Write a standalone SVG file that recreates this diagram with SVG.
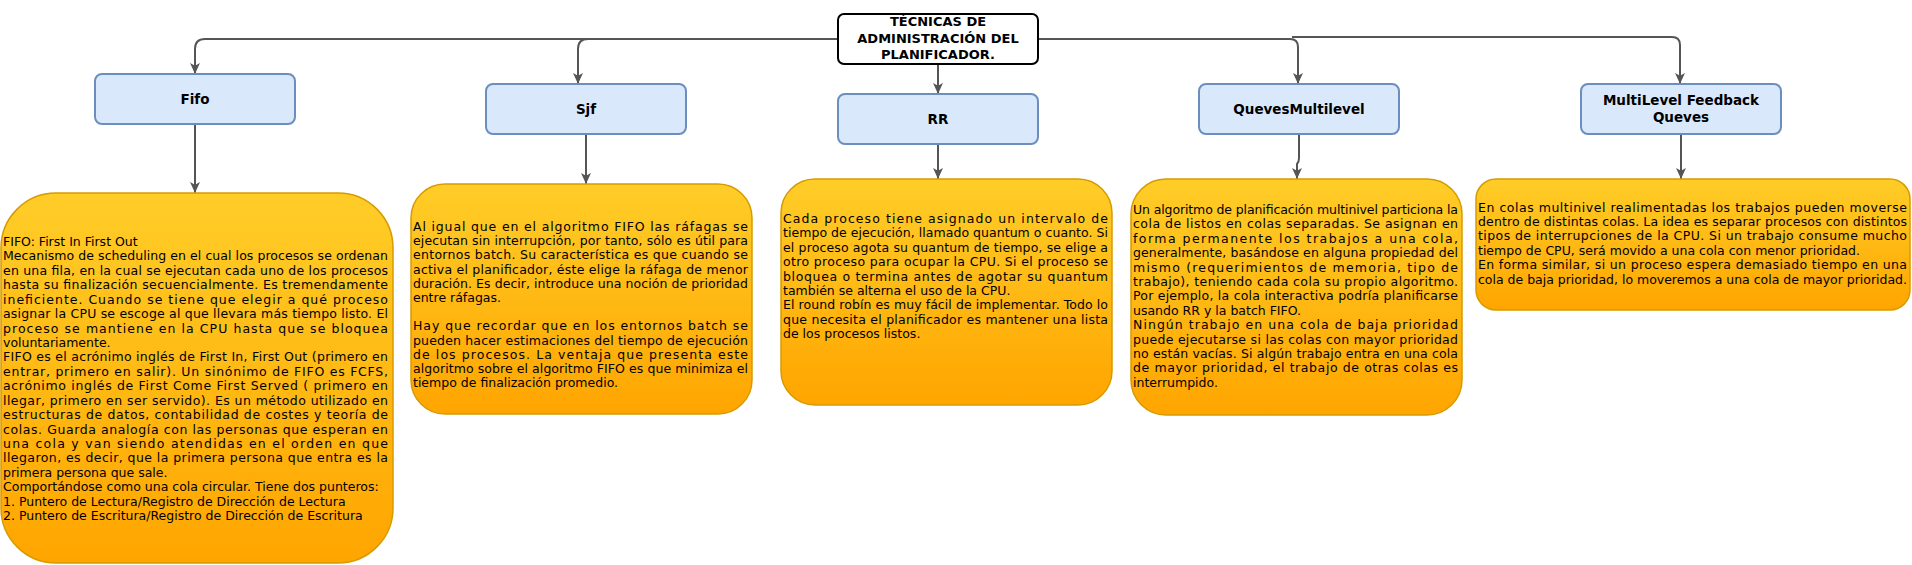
<svg xmlns="http://www.w3.org/2000/svg" width="1912" height="565" viewBox="0 0 1912 565">
<style>
.hdr{fill:#dae8fc;stroke:#6c8ebf;stroke-width:2}
.yel{fill:url(#yg);stroke:#d79b00;stroke-width:1.5}
.top{fill:#fff;stroke:#000;stroke-width:2}
.edge{fill:none;stroke:#555;stroke-width:2;marker-end:url(#arr)}
.ht{font-family:"DejaVu Sans",Verdana,sans-serif;font-weight:bold;font-size:13.5px;fill:#000;text-anchor:middle}
.tt{font-family:"DejaVu Sans",Verdana,sans-serif;font-weight:bold;font-size:13px;fill:#000;text-anchor:middle}
.b{font-family:"DejaVu Sans",Verdana,sans-serif;font-size:12.5px;fill:#000}
</style>
<defs>
<linearGradient id="yg" x1="0" y1="0" x2="0" y2="1">
<stop offset="0" stop-color="#ffcd28"/>
<stop offset="1" stop-color="#ffa500"/>
</linearGradient>
<marker id="arr" viewBox="0 0 10 10" markerUnits="userSpaceOnUse" markerWidth="11" markerHeight="11" refX="10" refY="5" orient="auto">
<path d="M0,0.5 L10,5 L0,9.5 L2.5,5 z" fill="#555"/>
</marker>
</defs>
<g id="connectors">
<path class="edge" d="M838,39 H205 Q195,39 195,49 V74"/>
<path class="edge" d="M838,39 H588 Q578,39 578,49 V84"/>
<path class="edge" d="M938,64 V94"/>
<path class="edge" d="M1038,39 H1290 Q1298,39 1298,47 V84"/>
<path class="edge" d="M1292,37 H1672 Q1680,37 1680,45 V84"/>
<path class="edge" d="M195,124 V193"/>
<path class="edge" d="M586,134 V184"/>
<path class="edge" d="M938,144 V179"/>
<path class="edge" d="M1299,134 V158 Q1299,162 1297,164 V179"/>
<path class="edge" d="M1681,134 V179"/>
</g>
<g id="root">
<rect class="top" x="838" y="14" width="200" height="50" rx="6"/>
<text class="tt" x="938" y="26">TÉCNICAS DE</text>
<text class="tt" x="938" y="42.5">ADMINISTRACIÓN DEL</text>
<text class="tt" x="938" y="59">PLANIFICADOR.</text>
</g>
<g id="fifo">
<rect class="hdr" x="95" y="74" width="200" height="50" rx="7"/>
<text class="ht" x="195" y="104">Fifo</text>
</g>
<g id="sjf">
<rect class="hdr" x="486" y="84" width="200" height="50" rx="7"/>
<text class="ht" x="586" y="114">Sjf</text>
</g>
<g id="rr">
<rect class="hdr" x="838" y="94" width="200" height="50" rx="7"/>
<text class="ht" x="938" y="124">RR</text>
</g>
<g id="qm">
<rect class="hdr" x="1199" y="84" width="200" height="50" rx="7"/>
<text class="ht" x="1299" y="114">QuevesMultilevel</text>
</g>
<g id="mlfq">
<rect class="hdr" x="1581" y="84" width="200" height="50" rx="7"/>
<text class="ht" x="1681" y="104.5">MultiLevel Feedback</text>
<text class="ht" x="1681" y="121.5">Queves</text>
</g>
<g id="fifo-desc">
<rect class="yel" x="1" y="193" width="392" height="370" rx="55"/>
<text class="b" x="3" y="246">FIFO: First In First Out</text>
<text class="b" x="3" y="260.4" textLength="385" lengthAdjust="spacing">Mecanismo de scheduling en el cual los procesos se ordenan</text>
<text class="b" x="3" y="274.8" textLength="385" lengthAdjust="spacing">en una fila, en la cual se ejecutan cada uno de los procesos</text>
<text class="b" x="3" y="289.3" textLength="385" lengthAdjust="spacing">hasta su finalización secuencialmente. Es tremendamente</text>
<text class="b" x="3" y="303.7" textLength="385" lengthAdjust="spacing">ineficiente. Cuando se tiene que elegir a qué proceso</text>
<text class="b" x="3" y="318.1" textLength="385" lengthAdjust="spacing">asignar la CPU se escoge al que llevara más tiempo listo. El</text>
<text class="b" x="3" y="332.5" textLength="385" lengthAdjust="spacing">proceso se mantiene en la CPU hasta que se bloquea</text>
<text class="b" x="3" y="346.9">voluntariamente.</text>
<text class="b" x="3" y="361.4" textLength="385" lengthAdjust="spacing">FIFO es el acrónimo inglés de First In, First Out (primero en</text>
<text class="b" x="3" y="375.8" textLength="385" lengthAdjust="spacing">entrar, primero en salir). Un sinónimo de FIFO es FCFS,</text>
<text class="b" x="3" y="390.2" textLength="385" lengthAdjust="spacing">acrónimo inglés de First Come First Served ( primero en</text>
<text class="b" x="3" y="404.6" textLength="385" lengthAdjust="spacing">llegar, primero en ser servido). Es un método utilizado en</text>
<text class="b" x="3" y="419" textLength="385" lengthAdjust="spacing">estructuras de datos, contabilidad de costes y teoría de</text>
<text class="b" x="3" y="433.5" textLength="385" lengthAdjust="spacing">colas. Guarda analogía con las personas que esperan en</text>
<text class="b" x="3" y="447.9" textLength="385" lengthAdjust="spacing">una cola y van siendo atendidas en el orden en que</text>
<text class="b" x="3" y="462.3" textLength="385" lengthAdjust="spacing">llegaron, es decir, que la primera persona que entra es la</text>
<text class="b" x="3" y="476.7">primera persona que sale.</text>
<text class="b" x="3" y="491.1">Comportándose como una cola circular. Tiene dos punteros:</text>
<text class="b" x="3" y="505.6">1. Puntero de Lectura/Registro de Dirección de Lectura</text>
<text class="b" x="3" y="520">2. Puntero de Escritura/Registro de Dirección de Escritura</text>
</g>
<g id="sjf-desc">
<rect class="yel" x="411" y="184" width="341" height="230" rx="34"/>
<text class="b" x="413" y="231" textLength="335" lengthAdjust="spacing">Al igual que en el algoritmo FIFO las ráfagas se</text>
<text class="b" x="413" y="245.2" textLength="335" lengthAdjust="spacing">ejecutan sin interrupción, por tanto, sólo es útil para</text>
<text class="b" x="413" y="259.4" textLength="335" lengthAdjust="spacing">entornos batch. Su característica es que cuando se</text>
<text class="b" x="413" y="273.6" textLength="335" lengthAdjust="spacing">activa el planificador, éste elige la ráfaga de menor</text>
<text class="b" x="413" y="287.8" textLength="335" lengthAdjust="spacing">duración. Es decir, introduce una noción de prioridad</text>
<text class="b" x="413" y="302">entre ráfagas.</text>
<text class="b" x="413" y="330.4" textLength="335" lengthAdjust="spacing">Hay que recordar que en los entornos batch se</text>
<text class="b" x="413" y="344.6" textLength="335" lengthAdjust="spacing">pueden hacer estimaciones del tiempo de ejecución</text>
<text class="b" x="413" y="358.8" textLength="335" lengthAdjust="spacing">de los procesos. La ventaja que presenta este</text>
<text class="b" x="413" y="373" textLength="335" lengthAdjust="spacing">algoritmo sobre el algoritmo FIFO es que minimiza el</text>
<text class="b" x="413" y="387.2">tiempo de finalización promedio.</text>
</g>
<g id="rr-desc">
<rect class="yel" x="781" y="179" width="331" height="226" rx="34"/>
<text class="b" x="783" y="223" textLength="325" lengthAdjust="spacing">Cada proceso tiene asignado un intervalo de</text>
<text class="b" x="783" y="237.4" textLength="325" lengthAdjust="spacing">tiempo de ejecución, llamado quantum o cuanto. Si</text>
<text class="b" x="783" y="251.8" textLength="325" lengthAdjust="spacing">el proceso agota su quantum de tiempo, se elige a</text>
<text class="b" x="783" y="266.2" textLength="325" lengthAdjust="spacing">otro proceso para ocupar la CPU. Si el proceso se</text>
<text class="b" x="783" y="280.6" textLength="325" lengthAdjust="spacing">bloquea o termina antes de agotar su quantum</text>
<text class="b" x="783" y="295">también se alterna el uso de la CPU.</text>
<text class="b" x="783" y="309.4" textLength="325" lengthAdjust="spacing">El round robín es muy fácil de implementar. Todo lo</text>
<text class="b" x="783" y="323.8" textLength="325" lengthAdjust="spacing">que necesita el planificador es mantener una lista</text>
<text class="b" x="783" y="338.2">de los procesos listos.</text>
</g>
<g id="qm-desc">
<rect class="yel" x="1131" y="179" width="331" height="236" rx="35"/>
<text class="b" x="1133" y="214" textLength="325" lengthAdjust="spacing">Un algoritmo de planificación multinivel particiona la</text>
<text class="b" x="1133" y="228.4" textLength="325" lengthAdjust="spacing">cola de listos en colas separadas. Se asignan en</text>
<text class="b" x="1133" y="242.8" textLength="325" lengthAdjust="spacing">forma permanente los trabajos a una cola,</text>
<text class="b" x="1133" y="257.2" textLength="325" lengthAdjust="spacing">generalmente, basándose en alguna propiedad del</text>
<text class="b" x="1133" y="271.6" textLength="325" lengthAdjust="spacing">mismo (requerimientos de memoria, tipo de</text>
<text class="b" x="1133" y="286" textLength="325" lengthAdjust="spacing">trabajo), teniendo cada cola su propio algoritmo.</text>
<text class="b" x="1133" y="300.4" textLength="325" lengthAdjust="spacing">Por ejemplo, la cola interactiva podría planificarse</text>
<text class="b" x="1133" y="314.8">usando RR y la batch FIFO.</text>
<text class="b" x="1133" y="329.2" textLength="325" lengthAdjust="spacing">Ningún trabajo en una cola de baja prioridad</text>
<text class="b" x="1133" y="343.6" textLength="325" lengthAdjust="spacing">puede ejecutarse si las colas con mayor prioridad</text>
<text class="b" x="1133" y="358" textLength="325" lengthAdjust="spacing">no están vacías. Si algún trabajo entra en una cola</text>
<text class="b" x="1133" y="372.4" textLength="325" lengthAdjust="spacing">de mayor prioridad, el trabajo de otras colas es</text>
<text class="b" x="1133" y="386.8">interrumpido.</text>
</g>
<g id="mlfq-desc">
<rect class="yel" x="1476" y="179" width="434" height="131" rx="20"/>
<text class="b" x="1478" y="211.5" textLength="429" lengthAdjust="spacing">En colas multinivel realimentadas los trabajos pueden moverse</text>
<text class="b" x="1478" y="225.9" textLength="429" lengthAdjust="spacing">dentro de distintas colas. La idea es separar procesos con distintos</text>
<text class="b" x="1478" y="240.3" textLength="429" lengthAdjust="spacing">tipos de interrupciones de la CPU. Si un trabajo consume mucho</text>
<text class="b" x="1478" y="254.7">tiempo de CPU, será movido a una cola con menor prioridad.</text>
<text class="b" x="1478" y="269.1" textLength="429" lengthAdjust="spacing">En forma similar, si un proceso espera demasiado tiempo en una</text>
<text class="b" x="1478" y="283.5" textLength="429" lengthAdjust="spacing">cola de baja prioridad, lo moveremos a una cola de mayor prioridad.</text>
</g>
</svg>
